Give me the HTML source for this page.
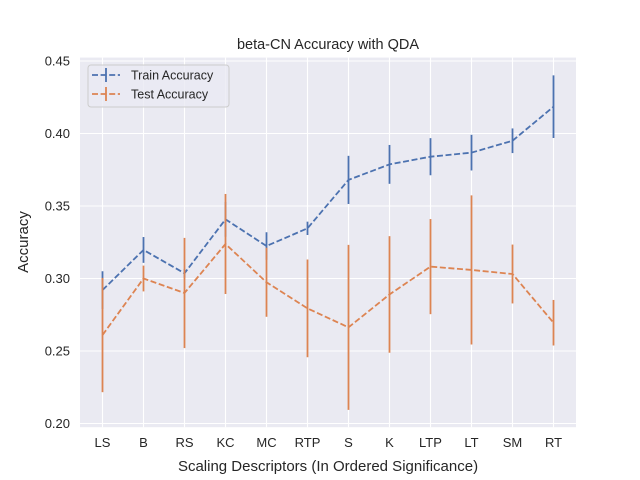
<!DOCTYPE html>
<html><head><meta charset="utf-8"><style>
body{margin:0;background:#fff;}
svg{display:block;font-family:"Liberation Sans","DejaVu Sans",sans-serif;}
</style></head><body>
<svg id="chart" width="640" height="480" viewBox="0 0 640 480">
<rect x="80" y="57.6" width="496" height="369.6" fill="#eaeaf2"/>
<g id="grid"></g>
<g id="series"></g>
<text x="328" y="49" text-anchor="middle" font-size="14.5" fill="#262626">beta-CN Accuracy with QDA</text>
<text x="328" y="471" text-anchor="middle" font-size="15" fill="#262626">Scaling Descriptors (In Ordered Significance)</text>
<text transform="translate(28,242) rotate(-90)" text-anchor="middle" font-size="15" fill="#262626">Accuracy</text>
<g>
<rect x="88" y="65" width="141" height="42" rx="3" fill="#eaeaf2" fill-opacity="0.8" stroke="#cccccc"/>
<g>
<line x1="92" y1="75" x2="120" y2="75" stroke="#4c72b0" stroke-width="1.8" stroke-dasharray="6,2.6"/>
<line x1="106" y1="68" x2="106" y2="82" stroke="#4c72b0" stroke-width="1.8"/>
<text x="131" y="79.5" font-size="12.5" fill="#262626">Train Accuracy</text></g>
<g>
<line x1="92" y1="94" x2="120" y2="94" stroke="#dd8452" stroke-width="1.8" stroke-dasharray="6,2.6"/>
<line x1="106" y1="87" x2="106" y2="101" stroke="#dd8452" stroke-width="1.8"/>
<text x="131" y="98.5" font-size="12.5" fill="#262626">Test Accuracy</text></g>
</g>
</svg>
<script>
const categories=["LS","B","RS","KC","MC","RTP","S","K","LTP","LT","SM","RT"];
const trainValues=[0.292,0.3197,0.3036,0.3408,0.3224,0.3346,0.368,0.3787,0.384,0.3868,0.395,0.4185];
const trainErrors=[0.013,0.0089,0.003,0.012,0.0095,0.0046,0.0166,0.0134,0.0128,0.0123,0.0085,0.0216];
const testValues=[0.261,0.300,0.290,0.3238,0.2974,0.2794,0.2663,0.289,0.3082,0.3059,0.3031,0.2695];
const testErrors=[0.0394,0.0089,0.038,0.0345,0.0238,0.0337,0.0569,0.0402,0.0328,0.0514,0.0203,0.0157];
const yTicks=[0.20,0.25,0.30,0.35,0.40,0.45];
const NS="http://www.w3.org/2000/svg";
function xScale(i){return 102.5+i*41;}
function yScale(v){return 61+(0.45-v)*1450;}
function mk(tag,attrs,parent){const e=document.createElementNS(NS,tag);for(const k in attrs)e.setAttribute(k,attrs[k]);parent.appendChild(e);return e;}
const grid=document.getElementById('grid');
const svg=document.getElementById('chart');
yTicks.forEach(t=>{
 const l=mk('line',{x1:80,x2:576,y1:yScale(t),y2:yScale(t),stroke:'#fff','stroke-width':1.1},grid);
 
 
 const tx=mk('text',{x:70,y:yScale(t)+4.5,'text-anchor':'end','font-size':13,fill:'#262626'},svg);
 tx.textContent=t.toFixed(2);
 
 
});
categories.forEach((c,i)=>{
 const l=mk('line',{x1:xScale(i),x2:xScale(i),y1:57.6,y2:427.2,stroke:'#fff','stroke-width':1.1},grid);
 
 
 const tx=mk('text',{x:xScale(i),y:447,'text-anchor':'middle','font-size':13,fill:'#262626'},svg);
 tx.textContent=c;
 
 
});
const sg=document.getElementById('series');
function drawSeries(vals,errs,color,name){
 const g=mk('g',{},sg);
 
 
 const pts=vals.map((v,i)=>xScale(i)+','+yScale(v)).join(' ');
 const pl=mk('polyline',{points:pts,fill:'none',stroke:color,'stroke-width':1.8,'stroke-dasharray':'6,2.6'},g);
 
 
 vals.forEach((v,i)=>{
  const e=mk('line',{x1:xScale(i),x2:xScale(i),y1:yScale(v+errs[i]),y2:yScale(v-errs[i]),stroke:color,'stroke-width':1.8},g);
  
  
 });
}
drawSeries(trainValues,trainErrors,'#4c72b0','train-series');
drawSeries(testValues,testErrors,'#dd8452','test-series');
</script>
</body></html>
